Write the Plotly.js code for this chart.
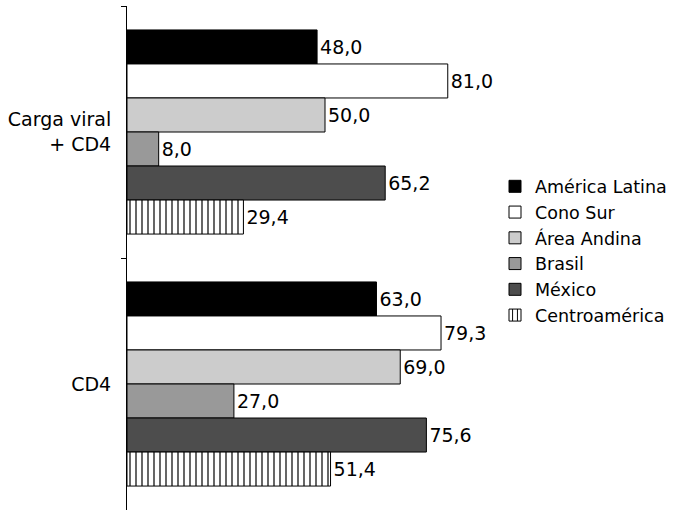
<!DOCTYPE html>
<html>
<head>
<meta charset="utf-8">
<script src="https://cdn.plot.ly/plotly-3.0.1.min.js"></script>
<style>html,body{margin:0;padding:0;background:#fff;}</style>
</head>
<body>
<div id="chart" style="width:679px;height:512px;"></div>
<script>
const categories = ["Carga viral<br>+ CD4", "CD4"];
const seriesNames = ["América Latina", "Cono Sur", "Área Andina", "Brasil", "México", "Centroamérica"];
const americaLatina = [48.0, 63.0];
const conoSur = [81.0, 79.3];
const areaAndina = [50.0, 69.0];
const brasil = [8.0, 27.0];
const mexico = [65.2, 75.6];
const centroamerica = [29.4, 51.4];

const seriesValues = [americaLatina, conoSur, areaAndina, brasil, mexico, centroamerica];
const fills = ["#000000", "#ffffff", "#cccccc", "#999999", "#4d4d4d", "#ffffff"];
const FONT = "'DejaVu Sans', sans-serif";

const fmt = v => v.toFixed(1).replace('.', ',');

const traces = seriesValues.map((vals, i) => {
  const marker = {color: fills[i], line: {color: "#000", width: 1}};
  if (i === 5) {
    marker.pattern = {shape: "|", size: 6, solidity: 0.2, fgcolor: "#000", bgcolor: "#fff", fillmode: "replace"};
  }
  return {
    type: "bar",
    orientation: "h",
    name: seriesNames[i],
    y: categories,
    x: vals,
    text: vals.map(fmt),
    textposition: "outside",
    cliponaxis: false,
    textfont: {family: FONT, size: 19, color: "#000"},
    marker: marker,
    hoverinfo: "none"
  };
});

const layout = {
  width: 679, height: 512,
  margin: {l: 127, r: 156, t: 6, b: 2},
  paper_bgcolor: "#fff", plot_bgcolor: "#fff",
  barmode: "group",
  bargap: 0.19,
  bargroupgap: 0,
  showlegend: true,
  legend: {
    x: 0.9293, xanchor: "left", y: 0.514, yanchor: "middle",
    font: {family: FONT, size: 17.5, color: "#000"},
    tracegroupgap: 0,
    itemwidth: 30,
    bgcolor: "rgba(0,0,0,0)"
  },
  xaxis: {
    range: [0, 100], visible: false, showgrid: false, zeroline: false, fixedrange: true
  },
  yaxis: {
    type: "category",
    autorange: "reversed",
    showline: true, linecolor: "#000", linewidth: 1,
    ticks: "outside", ticklen: 5, tickcolor: "#000", tickwidth: 1,
    tickson: "boundaries",
    ticklabelstandoff: 11,
    tickfont: {family: FONT, size: 19, color: "#000"},
    showgrid: false, zeroline: false
  },
  font: {family: FONT, size: 19, color: "#000"}
};

Plotly.newPlot("chart", traces, layout, {displayModeBar: false, staticPlot: true});
</script>
</body>
</html>
